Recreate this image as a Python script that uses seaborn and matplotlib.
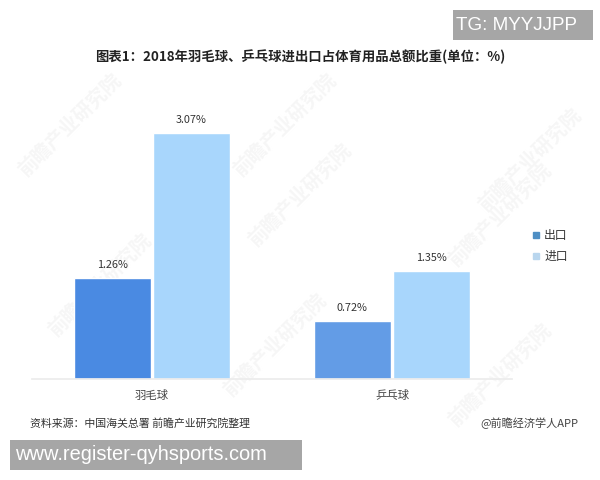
import matplotlib
matplotlib.use("Agg")
import matplotlib.pyplot as plt
from matplotlib.patches import Rectangle
from matplotlib.lines import Line2D
import pandas as pd
import seaborn as sns

categories = ["羽毛球", "乒乓球"]
export_values = [1.26, 0.72]
import_values = [3.07, 1.35]
series_names = ["出口", "进口"]
title_text = "图表1：2018年羽毛球、乒乓球进出口占体育用品总额比重(单位：%)"
source_text = "资料来源：中国海关总署 前瞻产业研究院整理"
credit_text = "@前瞻经济学人APP"
watermark_text = "前瞻产业研究院"

sns.set_theme(style="white")
plt.rcParams["font.family"] = ["Noto Sans CJK SC", "DejaVu Sans"]

W, H = 600, 480
fig = plt.figure(figsize=(6, 4.8), dpi=100)
ax = fig.add_axes([32 / W, 1 - 379 / H, 480 / W, 280 / H])
ax.patch.set_alpha(0)

df = pd.DataFrame({
    "cat": categories * 2,
    "series": [series_names[0]] * 2 + [series_names[1]] * 2,
    "val": export_values + import_values,
})
sns.barplot(data=df, x="cat", y="val", hue="series", hue_order=series_names,
            order=categories, width=0.66, gap=0.02, dodge=True, legend=False,
            palette=["#4A8AE2", "#A8D6FC"], saturation=1, ax=ax)
ax.containers[0][1].set_facecolor("#639CE6")
for c in ax.containers:
    ax.bar_label(c, fmt="%.2f%%", padding=6, fontsize=7.8, color="#333333")

ax.set_xlim(-0.5, 1.5)
ax.set_ylim(0, 3.5)
ax.set_xlabel("")
ax.set_ylabel("")
ax.set_yticks([])
for s in ["top", "left", "right"]:
    ax.spines[s].set_visible(False)
ax.spines["bottom"].set_color("#ececec")
ax.tick_params(axis="x", length=0, pad=8, labelsize=8.2, labelcolor="#444444")

handles = [Line2D([], [], marker="s", linestyle="", markersize=4, color=c)
           for c in ["#4F8FC4", "#B9D6EE"]]
fig.legend(handles, series_names, loc="center left",
           bbox_to_anchor=(514 / W, 1 - 246 / H), frameon=False, fontsize=8.5,
           handletextpad=-0.35, labelspacing=0.62, labelcolor="#333333")

def px(x, y):
    return x / W, 1 - y / H

for x, y in [(70, 125), (285, 125), (530, 160), (100, 285), (300, 195), (500, 215),
             (500, 375), (275, 345)]:
    fx, fy = px(x, y)
    fig.text(fx, fy, watermark_text, rotation=45, fontsize=14, color="#f6f6f6",
             ha="center", va="center", fontweight="bold", zorder=-1)

fx, fy = px(300, 57)
fig.text(fx, fy, title_text, ha="center", va="center", fontsize=9.6,
         fontweight="bold", color="#222222")
fx, fy = px(30, 423)
fig.text(fx, fy, source_text, ha="left", va="center", fontsize=7.85, color="#333333")
fx, fy = px(578, 423)
fig.text(fx, fy, credit_text, ha="right", va="center", fontsize=8, color="#444444")

for x0, y0, x1, y1, label, size, xoff in [(453, 10, 593, 40, "TG: MYYJJPP", 13.6, 3),
                                          (10, 440, 302, 470, "www.register-qyhsports.com", 14.4, 5)]:
    fig.add_artist(Rectangle((x0 / W, 1 - y1 / H), (x1 - x0) / W, (y1 - y0) / H,
                             transform=fig.transFigure, facecolor="#a6a6a6",
                             edgecolor="none"))
    fx, fy = px(x0 + xoff, (y0 + y1) / 2)
    fig.text(fx, fy, label, ha="left", va="center", fontsize=size, color="white",
             family="Liberation Sans", zorder=5)

fig.savefig("out.png", dpi=100)
